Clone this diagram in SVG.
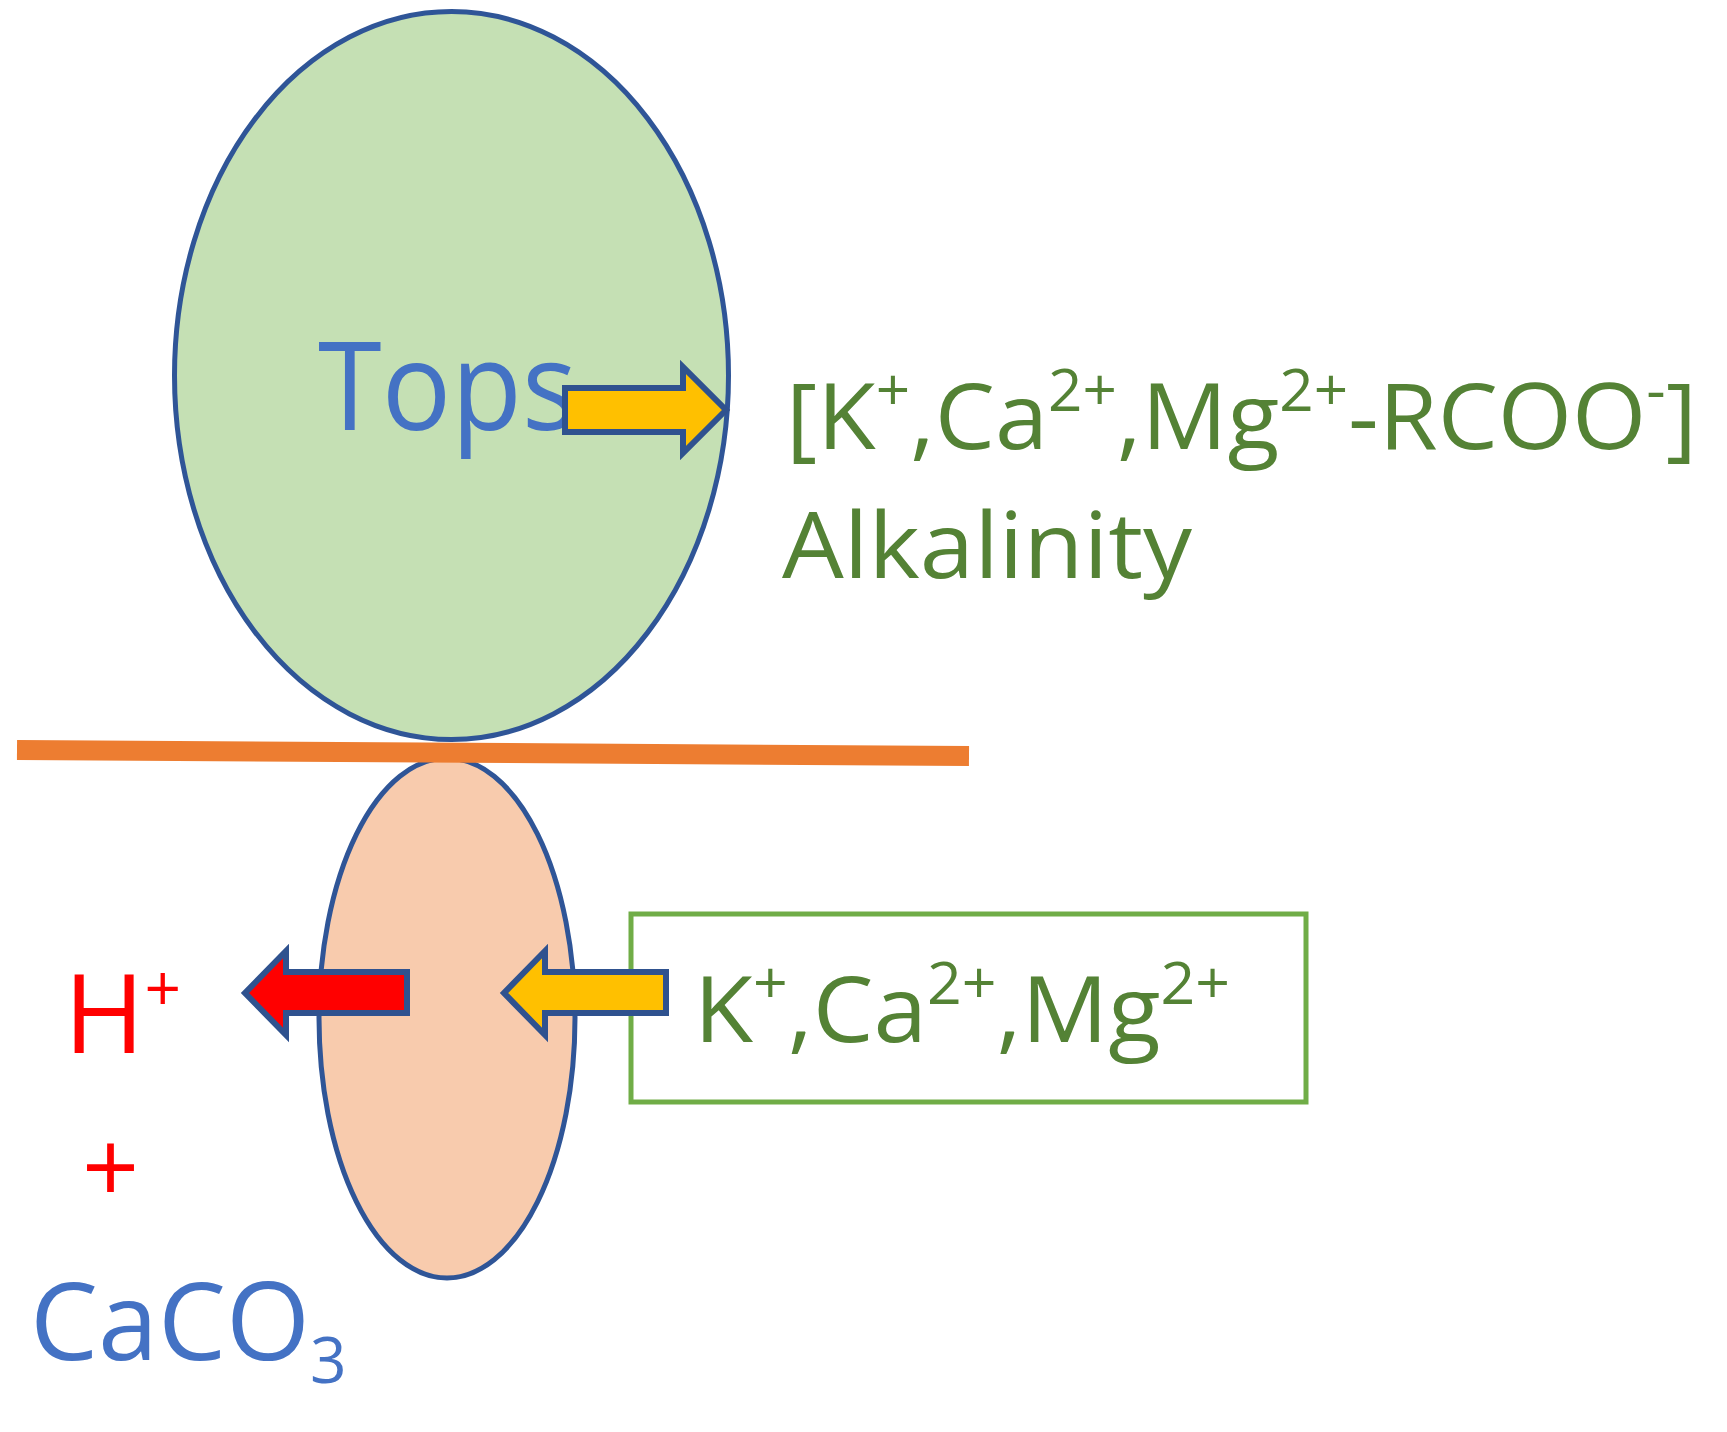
<svg xmlns="http://www.w3.org/2000/svg" width="1727" height="1432" viewBox="0 0 1727 1432">
<style>
.cell{stroke:#2F5597;stroke-width:5}
.arrow{stroke:#2F528F;stroke-width:6;stroke-linejoin:miter}
.green{fill:#548235;font-family:"Open Sans","Liberation Sans",sans-serif}
.blue{fill:#4472C4;font-family:"Open Sans","Liberation Sans",sans-serif}
.red{fill:#FF0000;font-family:"Open Sans","Liberation Sans",sans-serif}
</style>
<rect width="1727" height="1432" fill="#FFFFFF"/>
<g id="tops">
<ellipse class="cell" cx="451.5" cy="375.5" rx="277" ry="364" fill="#C5E0B4"/>
<text class="blue" x="318" y="430" font-size="123" textLength="259" lengthAdjust="spacingAndGlyphs">Tops</text>
</g>
<g id="roots">
<ellipse class="cell" cx="447" cy="1018" rx="128" ry="260" fill="#F8CBAD"/>
</g>
<g id="soil-line">
<line x1="17" y1="750" x2="969" y2="756" stroke="#ED7D31" stroke-width="20"/>
</g>
<g id="alkalinity-label">
<text class="green" x="786" y="449" font-size="92" textLength="911" lengthAdjust="spacingAndGlyphs">[K<tspan font-size="58" dy="-38">+</tspan><tspan dy="38">,Ca</tspan><tspan font-size="58" dy="-38">2+</tspan><tspan dy="38">,Mg</tspan><tspan font-size="58" dy="-38">2+</tspan><tspan dy="38">-RCOO</tspan><tspan font-size="58" dy="-38">-</tspan><tspan dy="38">]</tspan></text>
<text class="green" x="782" y="578" font-size="92" textLength="410" lengthAdjust="spacingAndGlyphs">Alkalinity</text>
</g>
<g id="cations-box">
<rect x="631" y="914" width="675" height="188" fill="#FFFFFF" stroke="#70AD47" stroke-width="5"/>
<text class="green" x="694" y="1042" font-size="92" textLength="536" lengthAdjust="spacingAndGlyphs">K<tspan font-size="58" dy="-38">+</tspan><tspan dy="38">,Ca</tspan><tspan font-size="58" dy="-38">2+</tspan><tspan dy="38">,Mg</tspan><tspan font-size="58" dy="-38">2+</tspan></text>
</g>
<g id="products">
<text class="red" x="64" y="1053" font-size="109">H<tspan font-size="64" dy="-42">+</tspan></text>
<text class="red" x="82" y="1203" font-size="100">+</text>
<text class="blue" x="30" y="1360" font-size="108">CaCO<tspan font-size="64" dy="23">3</tspan></text>
</g>
<g id="connectors">
<path class="arrow" fill="#FFC000" d="M565,388 H683 V367 L726,410 L683,453 V432 H565 Z"/>
<path class="arrow" fill="#FFC000" d="M666,972 H545 V951 L504,993 L545,1035 V1013 H666 Z"/>
<path class="arrow" fill="#FF0000" d="M407,972 H286 V951 L245,993 L286,1035 V1013 H407 Z"/>
</g>
</svg>
